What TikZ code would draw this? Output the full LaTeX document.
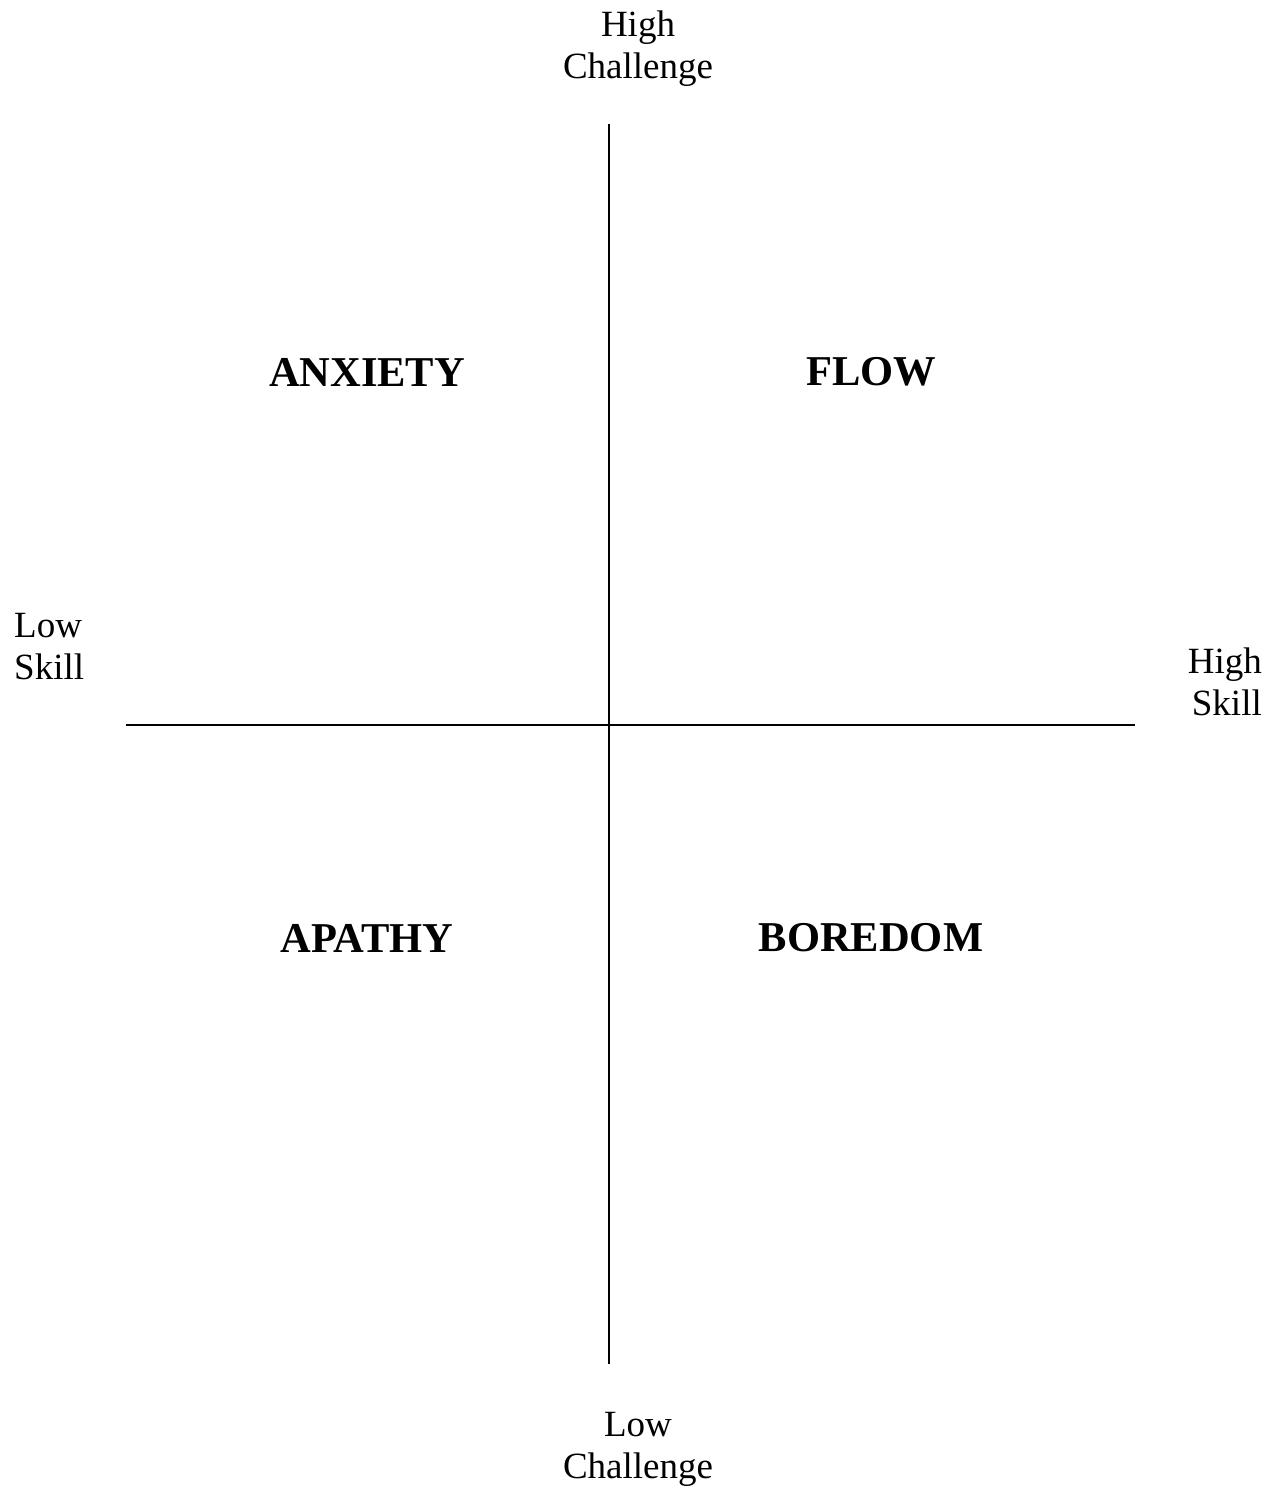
\documentclass[tikz,border=0pt]{standalone}
\usepackage{fontspec}
\setmainfont{Liberation Serif}
\begin{document}
\begin{tikzpicture}[x=1pt,y=-1pt,
  axis/.style={line width=2pt,black},
  lbl/.style={inner sep=0pt,font=\fontsize{37}{42}\selectfont},
  quad/.style={inner sep=0pt,font=\fontsize{42.5}{48}\selectfont\bfseries}]
\useasboundingbox (0,0) rectangle (1276,1489);
\coordinate (vt) at (609,124);
\coordinate (vb) at (609,1364);
\coordinate (hl) at (126,725);
\coordinate (hr) at (1135,725);
\draw[axis] (vt) -- (vb);
\draw[axis] (hl) -- (hr);
\node[lbl,align=center] (hc) at (638,49) {High\\Challenge};
\node[lbl,align=center] (lc) at (638,1449) {Low\\Challenge};
\node[lbl,align=left,anchor=west] (ls) at (14,647) {Low\\Skill};
\node[lbl,align=right,anchor=east] (hs) at (1262,682) {High\\Skill};
\node[quad] (anx) at (367,372) {ANXIETY};
\node[quad] (flow) at (871,372) {FLOW};
\node[quad] (apa) at (367,938) {APATHY};
\node[quad] (bor) at (871,938) {BOREDOM};
\end{tikzpicture}
\end{document}
